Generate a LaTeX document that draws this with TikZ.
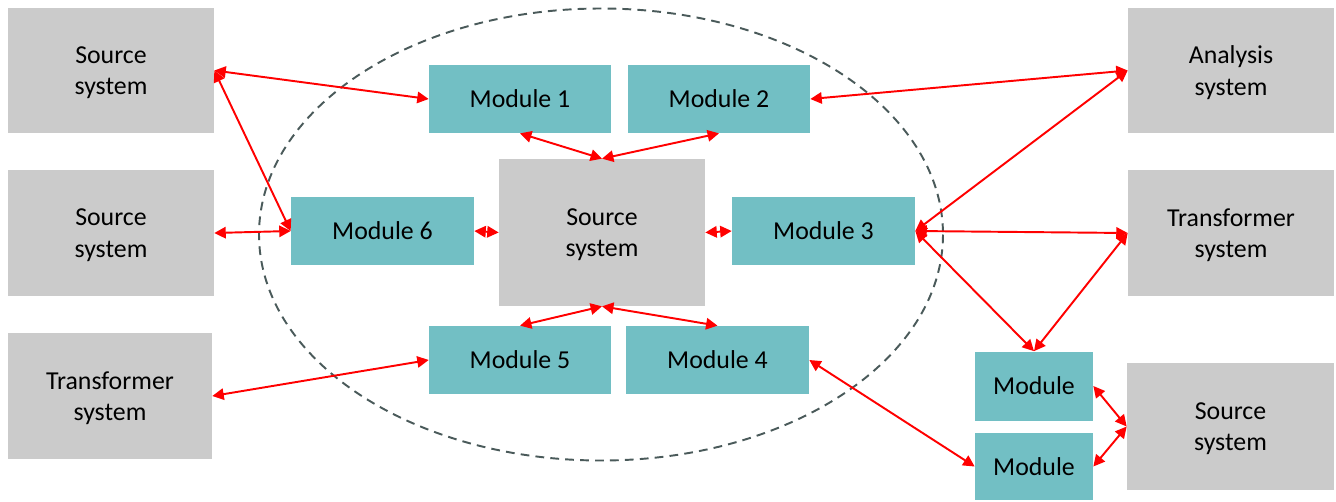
\documentclass[tikz,border=0pt]{standalone}
\usepackage{fontspec}
\setmainfont{Carlito}
\usetikzlibrary{arrows.meta}
\definecolor{sysgray}{RGB}{203,203,203}
\definecolor{modteal}{RGB}{114,191,196}
\definecolor{ringgray}{RGB}{74,90,90}
\begin{document}
\begin{tikzpicture}[
  x=0.02cm, y=-0.02cm,
  sys/.style={rectangle, fill=sysgray, minimum width=4.12cm, minimum height=2.52cm, align=center, inner sep=0pt, text depth=-2pt, font=\fontsize{14.7}{18}\selectfont},
  mod/.style={rectangle, fill=modteal, minimum width=3.64cm, minimum height=1.36cm, inner sep=0pt, font=\fontsize{14.7}{18}\selectfont},
  arr/.style={{Triangle[length=6.5pt,width=6.5pt]}-{Triangle[length=6.5pt,width=6.5pt]}, line width=1.1pt, red},
]
  \useasboundingbox (0,0) rectangle (1336,501);

  \draw[ringgray, line width=1.1pt, dash pattern=on 5pt off 3.5pt] (601,234.5) ellipse [x radius=342, y radius=226];

  % left side
  \node[sys] (src1) at (111,70.5) {Source\\system};
  \node[sys] (src2) at (111,233) {Source\\system};
  \node[sys, minimum width=4.08cm] (trf1) at (110,396) {Transformer\\system};

  % right side
  \node[sys] (ana) at (1231,70.5) {Analysis\\system};
  \node[sys] (trf2) at (1231,233) {Transformer\\system};
  \node[sys, minimum width=4.14cm, minimum height=2.54cm] (src3) at (1230.5,426.5) {Source\\system};

  % core
  \node[sys, minimum height=2.94cm] (core) at (602,232.5) {Source\\system};
  \node[mod] (mod1) at (520,99) {Module 1};
  \node[mod] (mod2) at (719,99) {Module 2};
  \node[mod, minimum width=3.66cm] (mod6) at (382.5,231) {Module 6};
  \node[mod, minimum width=3.66cm] (mod3) at (823.5,231) {Module 3};
  \node[mod] (mod5) at (520,360) {Module 5};
  \node[mod, minimum width=3.66cm] (mod4) at (717.5,360) {Module 4};

  \node[mod, minimum width=2.36cm, minimum height=1.38cm] (modA) at (1034,386) {Module};
  \node[mod, minimum width=2.36cm, minimum height=1.34cm] (modB) at (1034,466.5) {Module};

  \draw[arr] (src1.east) -- (mod1.west);
  \draw[arr] (src1.east) -- (mod6.west);
  \draw[arr] (src2.east) -- (mod6.west);
  \draw[arr] (trf1.east) -- (mod5.west);
  \draw[arr] (mod6.east) -- (core.west);
  \draw[arr] (core.east) -- (mod3.west);
  \draw[arr] (mod1.south) -- (core.north);
  \draw[arr] (mod2.south) -- (core.north);
  \draw[arr] (core.south) -- (mod5.north);
  \draw[arr] (core.south) -- (mod4.north);
  \draw[arr] (mod2.east) -- (ana.west);
  \draw[arr] (mod3.east) -- (ana.west);
  \draw[arr] (mod3.east) -- (trf2.west);
  \draw[arr] (mod3.east) -- (modA.north);
  \draw[arr] (trf2.west) -- (modA.north);
  \draw[arr] (mod4.east) -- (modB.west);
  \draw[arr] (modA.east) -- (src3.west);
  \draw[arr] (modB.east) -- (src3.west);
\end{tikzpicture}
\end{document}
